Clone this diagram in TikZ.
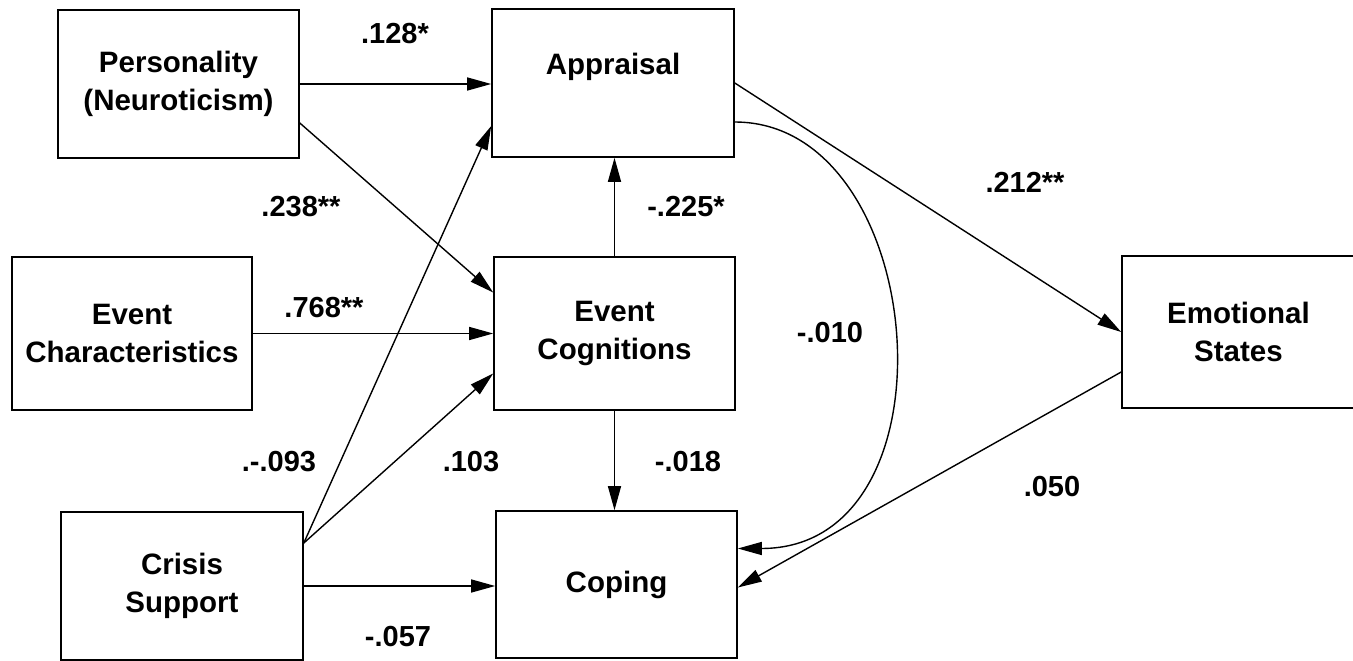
\documentclass[tikz,border=0pt]{standalone}
\usepackage{fontspec}
\setmainfont{Liberation Sans}
\usetikzlibrary{arrows.meta}
\begin{document}
\begin{tikzpicture}[x=1pt,y=-1pt,
  box/.style={draw, line width=1.6pt, align=center, inner sep=0pt,
    font=\fontsize{29.5}{37.5}\selectfont\bfseries},
  arr/.style={line width=1.4pt, -{Triangle[length=24pt,width=13pt]}},
  lab/.style={font=\fontsize{29}{34}\selectfont\bfseries, inner sep=0pt}]
\clip (0,0) rectangle (1353,661);
\useasboundingbox (0,0) rectangle (1353,661);
\fill[white] (0,0) rectangle (1353,661);

\node[box, minimum width=241pt, minimum height=148pt] (pers) at (178.5,84) {Personality\\(Neuroticism)};
\node[box, minimum width=240pt, minimum height=153pt] (char) at (132,333.5) {Event\\Characteristics};
\node[box, minimum width=242pt, minimum height=148pt] (crisis) at (182,586) {Crisis\\Support};
\node[box, minimum width=242pt, minimum height=148pt] (appr) at (613,83) {Appraisal\\\mbox{}};
\node[box, minimum width=241pt, minimum height=153pt] (cog) at (614.5,333.5) {Event\\Cognitions};
\node[box, minimum width=241pt, minimum height=147pt] (coping) at (616.5,584.5) {Coping};
\node[box, minimum width=233pt, minimum height=152pt] (emo) at (1238.5,332) {Emotional\\States};

\draw[arr] (pers.east) -- (appr.west |- pers.east);
\draw[arr] ([yshift=-39pt]pers.east) -- ([yshift=41pt]cog.west);
\draw[arr] (char.east) -- (cog.west |- char.east);
\coordinate (cs) at ([yshift=43pt]crisis.east);
\draw[arr] (cs) -- ([yshift=-43pt]appr.west);
\draw[arr] (cs) -- ([yshift=-40pt]cog.west);
\draw[arr] (crisis.east) -- (coping.west |- crisis.east);
\draw[arr] (cog.north) -- (cog.north |- appr.south);
\draw[arr] (cog.south) -- (cog.south |- coping.north);
\draw[arr] (appr.east) -- (emo.west);
\draw[arr] ([yshift=-39pt]appr.east) .. controls +(195,0) and +(225,0) .. ([yshift=36pt]coping.east);
\draw[arr] ([yshift=-40pt]emo.west) -- ([yshift=-3pt]coping.east);

\node[lab] (l1) at (395,34) {.128*};
\node[lab] (l2) at (301,207) {.238**};
\node[lab] (l3) at (324,308) {.768**};
\node[lab] (l4) at (686,207) {-.225*};
\node[lab] (l5) at (1025,182) {.212**};
\node[lab] (l6) at (830,333) {-.010};
\node[lab] (l7) at (279,462) {.-.093};
\node[lab] (l8) at (471,462) {.103};
\node[lab] (l9) at (688,462) {-.018};
\node[lab] (l10) at (1052,487) {.050};
\node[lab] (l11) at (398,637) {-.057};
\end{tikzpicture}
\end{document}
